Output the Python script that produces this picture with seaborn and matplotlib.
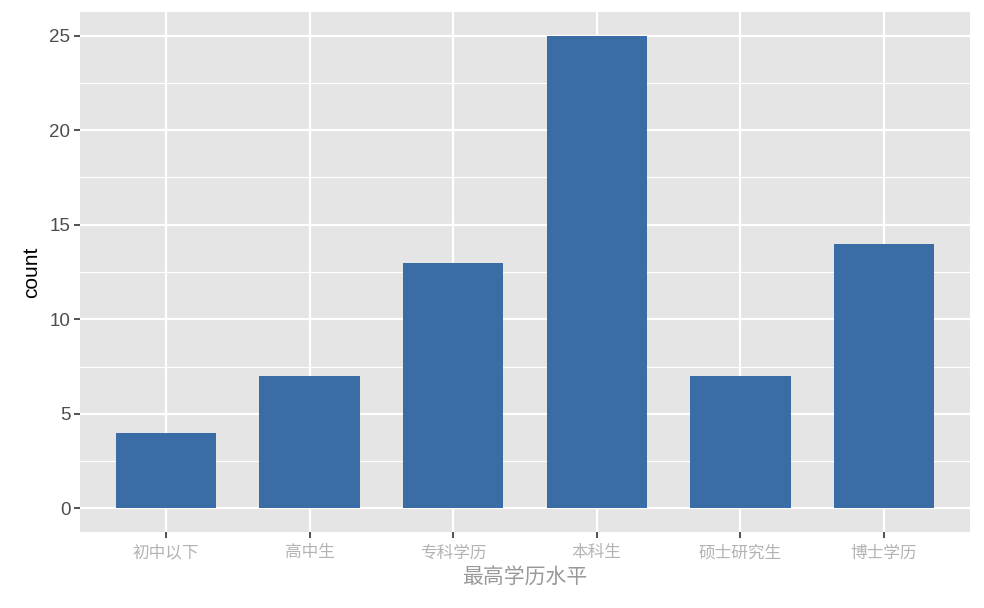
import matplotlib
matplotlib.use("Agg")
import matplotlib.pyplot as plt
import seaborn as sns
import pandas as pd
from matplotlib.ticker import MultipleLocator

categories = ["初中以下", "高中生", "专科学历", "本科生", "硕士研究生", "博士学历"]
counts = [4, 7, 13, 25, 7, 14]
x_title = "最高学历水平"
y_title = "count"

df = pd.DataFrame({"cat": categories, "count": counts})

sns.set_theme(style="darkgrid")
plt.rcParams["font.family"] = ["Liberation Sans", "Noto Sans CJK SC", "DejaVu Sans"]

fig = plt.figure(figsize=(9.84, 6.08), dpi=100)
ax = fig.add_axes([80/984, 1-532/608, 890/984, 520/608])
ax.set_facecolor("#E5E5E5")

sns.barplot(data=df, x="cat", y="count", order=categories, color="#3A6DA5",
            saturation=1, width=0.7, ax=ax, zorder=3)
for p in ax.patches:
    p.set_edgecolor("none")

ax.set_xlim(-0.6, 5.6)
ax.set_ylim(-1.25, 26.25)
ax.yaxis.set_major_locator(MultipleLocator(5))
ax.yaxis.set_minor_locator(MultipleLocator(2.5))
ax.grid(which="major", color="white", linewidth=1.6, zorder=0)
ax.grid(which="minor", axis="y", color="white", linewidth=0.8, zorder=0)
ax.set_axisbelow(True)
for s in ax.spines.values():
    s.set_visible(False)

ax.tick_params(axis="both", which="major", length=4, width=1.2, color="#333333",
               bottom=True, left=True, direction="out")
ax.tick_params(axis="y", which="minor", length=0, left=False)
ax.tick_params(axis="y", labelsize=13.5, labelcolor="#4D4D4D", pad=3)
ax.tick_params(axis="x", labelsize=12, labelcolor="#B3B3B3", pad=5)
for t in ax.get_xticklabels():
    t.set_family(["Noto Sans CJK SC", "DejaVu Sans"])

ax.set_xlabel(x_title, fontsize=15, color="#999999",
              family=["Noto Sans CJK SC", "DejaVu Sans"], labelpad=4)
ax.set_ylabel(y_title, fontsize=15, color="black", labelpad=6)

fig.savefig("out.png", dpi=100)
